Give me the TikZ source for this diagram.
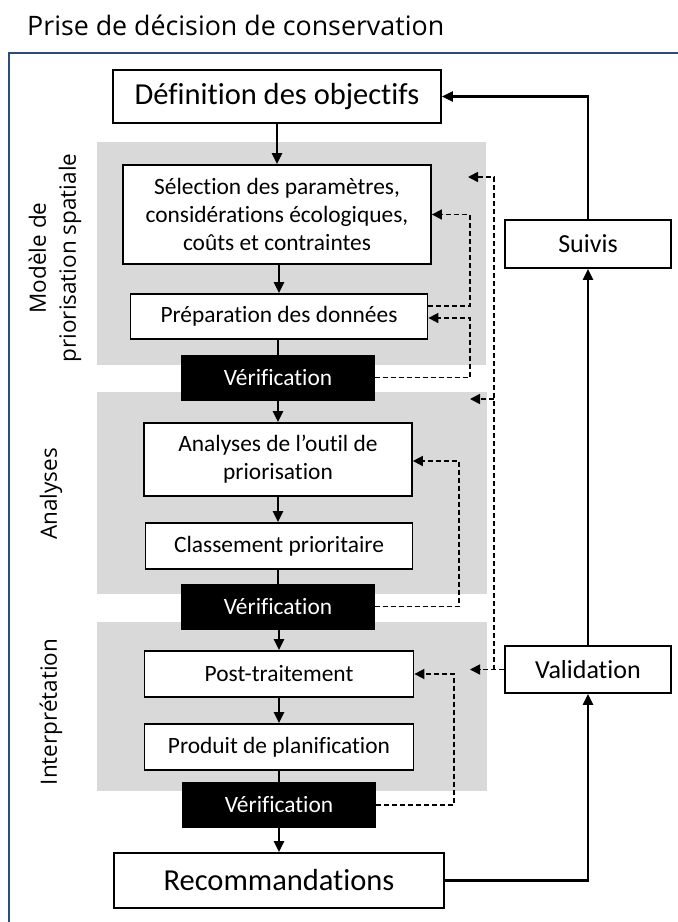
\documentclass[tikz,border=0pt]{standalone}
\usepackage{fontspec}
\setmainfont{Carlito}[Ligatures=CommonOff]
\newfontfamily\osans{Open Sans}
\usetikzlibrary{arrows.meta}
\definecolor{frameblue}{HTML}{2F4B7C}
\definecolor{panel}{HTML}{D9D9D9}
\begin{document}
\begin{tikzpicture}[x=1pt,y=1pt,
  box/.style={draw=black, line width=1.8pt, fill=white, inner sep=0pt, align=center, font=\fontsize{23.4}{28}\selectfont},
  bigbox/.style={box, font=\fontsize{30.5}{36}\selectfont},
  sidebox/.style={box, font=\fontsize{26}{31}\selectfont},
  verif/.style={fill=black, draw=black, text=white, inner sep=0pt, minimum width=193pt, minimum height=45pt, font=\fontsize{23.4}{28}\selectfont},
  flow/.style={line width=2.2pt, -{Triangle[length=11pt,width=10pt]}},
  joinline/.style={line width=2.2pt},
  dsh/.style={line width=1.7pt, dash pattern=on 5pt off 3pt, -{Triangle[length=10pt,width=10pt]}},
  sidelabel/.style={rotate=90, align=center, font=\osans\fontsize{22.5}{30}\selectfont}
]
\useasboundingbox (0,0) rectangle (678,-922);
% title and frame
\node[anchor=base west, inner sep=0pt, font=\osans\fontsize{26.8}{30}\selectfont] (title) at (27,-35) {Prise de décision de conservation};
\draw[frameblue, line width=2pt] (9,-922) -- (9,-53) -- (678,-53);
% panels
\fill[panel] (97,-142) rectangle (486,-365);
\fill[panel] (97,-392) rectangle (487,-594);
\fill[panel] (97,-622) rectangle (487,-791);
% side labels
\node[sidelabel] (lab1) at (55,-258) {Modèle de\\priorisation spatiale};
\node[sidelabel] (lab2) at (51,-494) {Analyses};
\node[sidelabel] (lab3) at (51,-712) {Interprétation};
% main column
\node[bigbox, minimum width=328pt, minimum height=53pt] (def) at (277,-96.5) {Définition des objectifs};
\node[box, minimum width=308pt, minimum height=99pt] (sel) at (277,-214.5) {Sélection des paramètres,\\considérations écologiques,\\coûts et contraintes};
\node[box, minimum width=297pt, minimum height=45pt] (prep) at (279,-316.5) {Préparation des données};
\node[verif] (v1) at (278,-377.5) {Vérification};
\node[box, minimum width=268pt, minimum height=73pt] (ana) at (278,-459.5) {Analyses de l’outil de\\priorisation};
\node[box, minimum width=267pt, minimum height=46pt] (cla) at (279,-546) {Classement prioritaire};
\node[verif] (v2) at (278,-606.5) {Vérification};
\node[box, minimum width=269pt, minimum height=46pt] (post) at (279,-674) {Post-traitement};
\node[box, minimum width=269pt, minimum height=46pt] (prod) at (279,-747) {Produit de planification};
\node[verif] (v3) at (279,-805) {Vérification};
\node[bigbox, minimum width=330pt, minimum height=55pt] (rec) at (279,-880.5) {Recommandations};
\node[sidebox, minimum width=166pt, minimum height=48pt] (suiv) at (588,-244) {Suivis};
\node[sidebox, minimum width=166pt, minimum height=47pt] (val) at (588,-669.5) {Validation};
% solid flow
\draw[flow] (def.south -| sel.north) -- (sel.north);
\draw[flow] (sel.south -| prep.north) -- (prep.north);
\draw[joinline] (prep.south -| v1.north) -- (v1.north);
\draw[flow] (v1.south) -- (v1.south |- ana.north);
\draw[flow] (ana.south) -- (ana.south |- cla.north);
\draw[joinline] (cla.south -| v2.north) -- (v2.north);
\draw[flow] (v2.south -| post.north) -- (post.north);
\draw[flow] (post.south) -- (prod.north);
\draw[joinline] (prod.south) -- (v3.north);
\draw[flow] (v3.south) -- (rec.north);
\draw[flow] (rec.east) -| (val.south);
\draw[flow] (val.north) -- (suiv.south);
\draw[flow] (suiv.north) |- (def.east);
% dashed feedback
\coordinate (kA1) at (470,-306);
\coordinate (kA3) at (470,-318);
\coordinate (kB) at (459,-461);
\coordinate (kC) at (454,-674);
\coordinate (dD) at (494,-669.5);
\coordinate (tA) at (468,-177);
\coordinate (tB) at (470,-399);
\coordinate (tC) at (470,-669.5);
\draw[dsh] (kA1 -| prep.east) -- (kA1) |- (sel.east);
\draw[dsh] (v1.east) -| (kA3) -- (kA3 -| prep.east);
\draw[dsh] (v2.east) -| (kB) -- (kB -| ana.east);
\draw[dsh] (v3.east) -| (kC) -- (kC -| post.east);
\draw[dsh] (val.west) -- (tC);
\draw[dsh] (dD) |- (tA);
\draw[dsh] (dD |- tB) -- (tB);
\end{tikzpicture}
\end{document}
